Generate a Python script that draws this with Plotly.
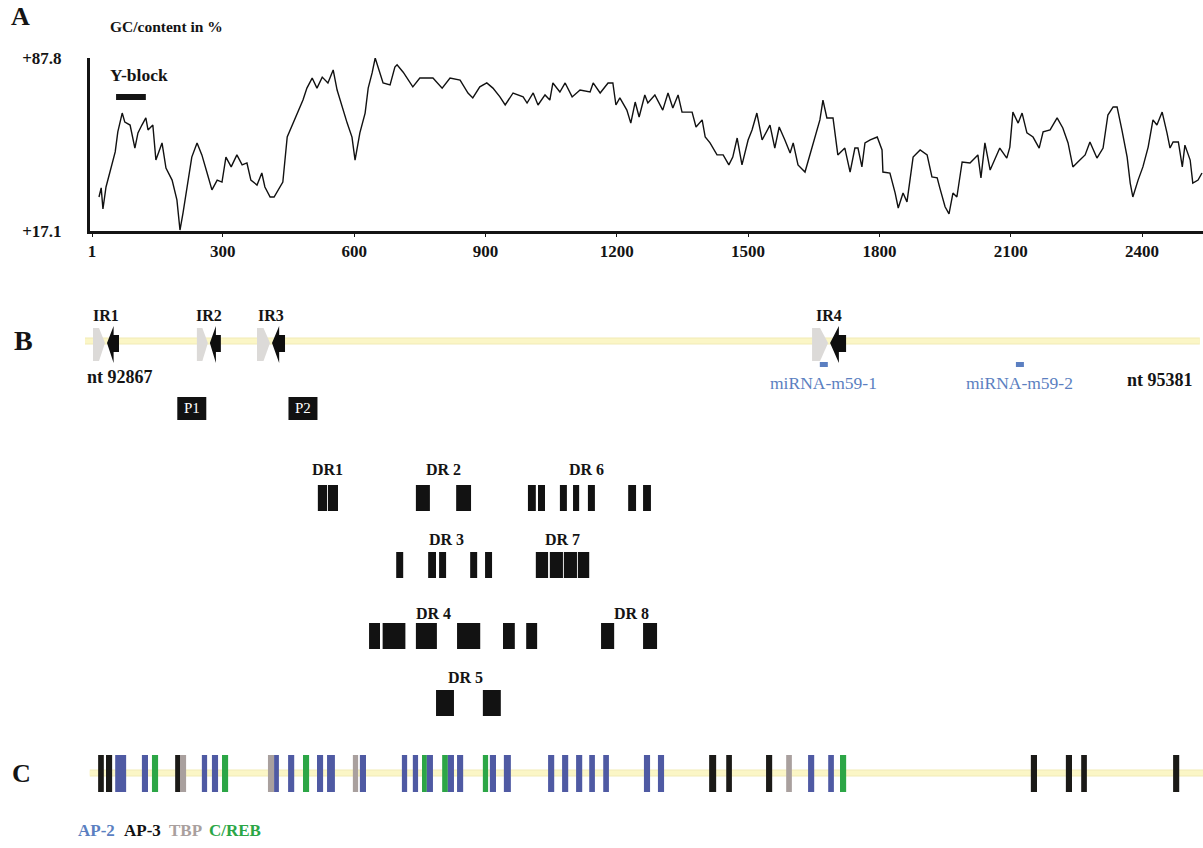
import plotly.graph_objects as go

W, H = 1203, 848
SERIF = "Liberation Serif"

# ---------------- Panel A : GC content (position in nt, value in %) ----------------
gc_pos = [17, 22, 26, 33, 42, 54, 60, 70, 76, 88,
          99, 106, 115, 124, 129, 140, 147, 161, 170, 184,
          195, 202, 209, 218, 229, 241, 252, 264, 275, 287,
          298, 307, 319, 332, 344, 355, 364, 378, 389, 396,
          408, 417, 426, 437, 447, 460, 472, 483, 492, 504,
          515, 527, 540, 552, 561, 572, 584, 595, 602, 613,
          625, 632, 641, 648, 659, 666, 682, 693, 698, 712,
          734, 750, 780, 801, 819, 842, 860, 871, 887, 903,
          917, 933, 945, 963, 986, 995, 1009, 1020, 1036, 1047,
          1054, 1070, 1082, 1098, 1116, 1139, 1146, 1162, 1180, 1191,
          1198, 1207, 1223, 1232, 1242, 1251, 1264, 1271, 1287, 1305,
          1317, 1328, 1340, 1349, 1372, 1381, 1395, 1402, 1413, 1429,
          1443, 1456, 1465, 1475, 1486, 1500, 1509, 1520, 1532, 1550,
          1561, 1571, 1584, 1596, 1603, 1614, 1630, 1646, 1657, 1664,
          1671, 1680, 1694, 1705, 1721, 1733, 1744, 1751, 1760, 1767,
          1779, 1795, 1806, 1808, 1824, 1836, 1843, 1854, 1863, 1877,
          1893, 1909, 1920, 1932, 1938, 1950, 1959, 1968, 1977, 1989,
          2007, 2025, 2032, 2041, 2053, 2064, 2075, 2091, 2098, 2105,
          2117, 2126, 2137, 2151, 2165, 2174, 2190, 2206, 2219, 2231,
          2242, 2258, 2270, 2281, 2297, 2311, 2322, 2334, 2343, 2354,
          2366, 2373, 2379, 2391, 2402, 2414, 2425, 2434, 2446, 2457,
          2464, 2471, 2483, 2492, 2498, 2510, 2516, 2528, 2537]
gc_val = [31.0, 34.7, 26.1, 35.1, 41.2, 49.4, 57.6, 65.3, 61.6, 60.4,
          51.0, 57.2, 60.4, 63.3, 58.4, 60.4, 46.1, 53.1, 42.8, 37.9,
          29.8, 17.5, 24.5, 35.1, 47.3, 53.1, 48.2, 40.8, 33.9, 37.9,
          37.1, 47.3, 43.3, 48.2, 44.1, 44.9, 37.9, 35.9, 40.8, 35.1,
          31.0, 31.0, 33.9, 37.1, 55.5, 61.2, 66.5, 70.6, 75.5, 79.6,
          75.5, 80.0, 77.6, 82.9, 74.7, 67.8, 61.2, 55.5, 46.1, 57.2,
          65.3, 75.5, 81.7, 87.8, 82.1, 77.6, 76.8, 84.1, 85.0, 82.0,
          76.0, 79.6, 79.6, 75.5, 79.6, 78.8, 73.5, 71.5, 76.0, 77.6,
          75.5, 71.9, 68.6, 73.5, 71.9, 69.4, 73.5, 68.6, 72.7, 70.6,
          77.6, 73.9, 77.6, 71.9, 74.7, 73.9, 77.6, 73.5, 77.6, 77.6,
          68.6, 71.5, 66.5, 61.2, 69.8, 63.7, 72.7, 69.4, 72.7, 66.5,
          73.5, 67.4, 72.7, 65.7, 65.7, 59.6, 62.5, 55.5, 53.1, 48.2,
          48.2, 44.1, 47.3, 55.1, 44.1, 54.3, 58.4, 65.3, 54.3, 60.4,
          51.0, 59.6, 54.3, 49.0, 53.1, 44.1, 41.2, 51.0, 58.4, 62.5,
          70.6, 63.3, 63.3, 48.2, 51.0, 41.2, 51.0, 51.0, 43.3, 53.1,
          54.3, 55.5, 50.2, 41.2, 40.8, 32.6, 26.5, 32.6, 29.0, 47.3,
          50.2, 48.2, 39.2, 38.8, 34.7, 27.0, 24.1, 32.6, 31.0, 45.3,
          44.9, 48.2, 38.8, 53.1, 42.0, 46.9, 51.0, 46.9, 51.4, 65.7,
          61.2, 65.3, 57.2, 55.5, 51.0, 57.6, 58.4, 63.3, 59.2, 53.1,
          43.3, 46.1, 48.2, 53.5, 46.9, 51.0, 64.5, 67.8, 67.8, 58.4,
          47.3, 36.7, 31.0, 37.9, 43.3, 51.4, 62.5, 60.4, 65.7, 57.2,
          51.0, 53.5, 53.5, 43.3, 52.2, 46.1, 36.7, 37.9, 40.8]
assert len(gc_pos) == len(gc_val)

x_ticks = [1, 300, 600, 900, 1200, 1500, 1800, 2100, 2400]
y_ticks = [17.1, 87.8]
y_tick_text = ["+17.1", "+87.8"]
yblock_span = [56, 124]

# ---------------- Panel B ----------------
seq_span = [-15, 2532]
seq_labels = ["nt 92867", "nt 95381"]
ir_names = ["IR1", "IR2", "IR3", "IR4"]
ir_pos = [33, 268, 410, 1685]
p_names = ["P1", "P2"]
p_pos = [229, 483]
mirna_names = ["miRNA-m59-1", "miRNA-m59-2"]
mirna_pos = [1673, 2121]

dr_names = ["DR1", "DR 2", "DR 6", "DR 3", "DR 7", "DR 4", "DR 8", "DR 5"]
dr_rows = [0, 0, 0, 1, 1, 2, 2, 3]
dr_label_pos = [540, 803, 1130, 812, 1077, 782, 1233, 855]
dr_segments = [
    [(517, 538), (540, 563)],
    [(741, 773), (833, 867)],
    [(997, 1015), (1020, 1036), (1070, 1086), (1100, 1114), (1134, 1150), (1226, 1244), (1260, 1278)],
    [(696, 712), (769, 787), (794, 810), (865, 881), (899, 915)],
    [(1015, 1043), (1047, 1077), (1079, 1109), (1111, 1137)],
    [(634, 659), (665, 717), (741, 789), (835, 888), (940, 967), (993, 1018)],
    [(1164, 1194), (1260, 1292)],
    [(787, 828), (894, 935)],
]

# ---------------- Panel C ----------------
c_span = [-4, 2545]
tf_names = ["AP-2", "AP-3", "TBP", "C/REB"]
tf_start = [15, 33, 54, 115, 138, 191, 202, 252, 275, 298,
            403, 417, 449, 483, 515, 538, 597, 613, 709, 734,
            755, 766, 801, 814, 835, 894, 910, 942, 1043, 1075,
            1107, 1137, 1169, 1262, 1294, 1411, 1450, 1541, 1587, 1637,
            1683, 1710, 2146, 2226, 2261, 2471]
tf_end = [28, 47, 79, 129, 152, 202, 216, 264, 289, 312,
          417, 428, 463, 497, 529, 556, 609, 627, 721, 746,
          766, 780, 814, 828, 849, 906, 924, 958, 1057, 1089,
          1121, 1150, 1182, 1276, 1308, 1427, 1463, 1555, 1600, 1651,
          1696, 1724, 2160, 2240, 2274, 2485]
tf_type = ["AP-3", "AP-3", "AP-2", "AP-2", "C/REB", "AP-3", "TBP", "AP-2", "AP-2", "C/REB",
           "TBP", "AP-2", "AP-2", "C/REB", "AP-2", "AP-2", "TBP", "AP-2", "AP-2", "AP-2",
           "C/REB", "AP-2", "C/REB", "AP-2", "AP-2", "C/REB", "AP-2", "AP-2", "AP-2", "AP-2",
           "AP-2", "AP-2", "AP-2", "AP-2", "AP-2", "AP-3", "AP-3", "AP-3", "TBP", "AP-2",
           "AP-2", "C/REB", "AP-3", "AP-3", "AP-3", "AP-3"]
assert len(tf_start) == len(tf_end) == len(tf_type)

# ---------------- styling / layout calibration ----------------
K = 2.2847                 # nt per pixel
X_LO = 1 - 92 * K          # nt at left page edge
X_HI = 1 + (W - 92) * K    # nt at right page edge
INK = "#141414"
YELLOW = "#fbf6c6"
YELLOW_EDGE = "#f1ebb6"
BLUE_TXT = "#5b7fc1"
tf_bar_color = {"AP-2": "#4f5aa3", "AP-3": "#1b1a17", "TBP": "#a9a09e", "C/REB": "#2ca646"}
tf_txt_color = {"AP-2": BLUE_TXT, "AP-3": "#111111", "TBP": "#a9a09e", "C/REB": "#2ca646"}


def bold(size, color=INK):
    return dict(family=SERIF, size=size, color=color, weight="bold")


def label(text, x, y, font, xref="x2", yref="y2", xanchor="center"):
    return dict(text=text, xref=xref, yref=yref, x=x, y=y, xanchor=xanchor,
                yanchor="middle", showarrow=False, font=font)


fig = go.Figure()
fig.add_trace(go.Scatter(x=gc_pos, y=gc_val, mode="lines",
                         line=dict(color="#111111", width=1.4),
                         xaxis="x", yaxis="y", showlegend=False, hoverinfo="skip"))
# invisible anchor trace for the overlay axes
fig.add_trace(go.Scatter(x=[X_LO], y=[0], mode="markers", marker=dict(opacity=0),
                         xaxis="x2", yaxis="y2", showlegend=False, hoverinfo="skip"))

shapes = []
ann = []

# ---- Panel A extras
ann.append(label("A", 20 / W, 1 - 17 / H, bold(26), "paper", "paper"))
ann.append(label("GC/content in %", 108 / W, 1 - 27 / H, bold(15.5), "paper", "paper", "left"))
ann.append(label("Y-block", yblock_span[0] - 8 * K, 1 - 75 / H, bold(17.5), "x", "paper", "left"))
shapes.append(dict(type="line", xref="x", yref="y2", x0=yblock_span[0], x1=yblock_span[1],
                   y0=97, y1=97, line=dict(color=INK, width=6)))

# ---- Panel B
ann.append(label("B", 23 / W, 1 - 341 / H, bold(28), "paper", "paper"))
shapes.append(dict(type="line", xref="x2", yref="y2", x0=seq_span[0], x1=seq_span[1],
                   y0=341, y1=341, line=dict(color=YELLOW_EDGE, width=7), layer="below"))
shapes.append(dict(type="line", xref="x2", yref="y2", x0=seq_span[0], x1=seq_span[1],
                   y0=341, y1=341, line=dict(color=YELLOW, width=5), layer="below"))
ann.append(label(seq_labels[0], seq_span[0], 377, bold(18), xanchor="left"))
ann.append(label(seq_labels[1], seq_span[1] - 5 * K, 380, bold(18), xanchor="right"))

arrow_w = [12, 11, 13, 16]   # pixel width of each arrow
YC = 344
for name, c, aw in zip(ir_names, ir_pos, arrow_w):
    tip_g = c - 1 * K
    tip_b = c + 1 * K
    back_g = tip_g - aw * 0.5 * K
    end_g = tip_g - aw * K
    back_b = tip_b + aw * 0.55 * K
    end_b = tip_b + aw * K
    pg = (f"M {end_g},{YC-16} L {back_g},{YC-16} L {tip_g},{YC-1} "
          f"L {back_g},{YC+17} L {end_g},{YC+17} Z")
    pb = (f"M {tip_b},{YC-1} L {back_b},{YC-18} L {back_b},{YC-9} L {end_b},{YC-9} "
          f"L {end_b},{YC+8} L {back_b},{YC+8} L {back_b},{YC+19} Z")
    shapes.append(dict(type="path", xref="x2", yref="y2", path=pg,
                       fillcolor="#dcdad8", line=dict(width=0)))
    shapes.append(dict(type="path", xref="x2", yref="y2", path=pb,
                       fillcolor="#0e0e0e", line=dict(width=0)))
    ann.append(label(name, c, 315, bold(16)))

for name, c in zip(p_names, p_pos):
    shapes.append(dict(type="rect", xref="x2", yref="y2", x0=c - 14.5 * K, x1=c + 14.5 * K,
                       y0=397, y1=420, fillcolor="#111111", line=dict(width=0)))
    ann.append(label(name, c, 408, dict(family=SERIF, size=15, color="white")))

for name, c in zip(mirna_names, mirna_pos):
    shapes.append(dict(type="rect", xref="x2", yref="y2", x0=c - 4 * K, x1=c + 4 * K,
                       y0=362, y1=367, fillcolor=BLUE_TXT, line=dict(width=0)))
    ann.append(label(name, c, 383, dict(family=SERIF, size=17.5, color=BLUE_TXT)))

row_top = [485, 552, 623, 690]
row_label = [469, 539, 613, 677]
for name, r, lp, segs in zip(dr_names, dr_rows, dr_label_pos, dr_segments):
    ann.append(label(name, lp, row_label[r], bold(16)))
    for s, e in segs:
        shapes.append(dict(type="rect", xref="x2", yref="y2", x0=s, x1=e,
                           y0=row_top[r], y1=row_top[r] + 26,
                           fillcolor="#121212", line=dict(width=0)))

# ---- Panel C
ann.append(label("C", 21 / W, 1 - 773 / H, bold(26), "paper", "paper"))
shapes.append(dict(type="line", xref="x2", yref="y2", x0=c_span[0], x1=c_span[1],
                   y0=773, y1=773, line=dict(color=YELLOW_EDGE, width=7), layer="below"))
shapes.append(dict(type="line", xref="x2", yref="y2", x0=c_span[0], x1=c_span[1],
                   y0=773, y1=773, line=dict(color=YELLOW, width=5), layer="below"))
for s, e, t in zip(tf_start, tf_end, tf_type):
    shapes.append(dict(type="rect", xref="x2", yref="y2", x0=s, x1=e, y0=755, y1=792,
                       fillcolor=tf_bar_color[t], line=dict(width=0)))

legend_x = [76, 122, 167, 207]
for name, lx in zip(tf_names, legend_x):
    ann.append(label(name, lx / W, 1 - 830 / H, bold(17, tf_txt_color[name]),
                     "paper", "paper", "left"))

fig.update_layout(
    template="none",
    width=W, height=H,
    margin=dict(l=0, r=0, t=0, b=0, pad=0, autoexpand=False),
    paper_bgcolor="white", plot_bgcolor="rgba(0,0,0,0)",
    showlegend=False,
    xaxis=dict(domain=[90 / W, 1], range=[1 - 2 * K, X_HI], anchor="y", automargin=False,
               tickvals=x_ticks, ticks="outside", ticklen=3, tickcolor=INK,
               showline=True, linewidth=3, linecolor=INK, showgrid=False, zeroline=False,
               tickfont=bold(17), fixedrange=True),
    yaxis=dict(domain=[1 - 231 / H, 1 - 58 / H], range=[17.1, 87.8], anchor="x", automargin=False,
               tickvals=y_ticks, ticktext=y_tick_text, ticks="", ticklabelstandoff=22,
               showline=True, linewidth=3, linecolor=INK, showgrid=False, zeroline=False,
               tickfont=bold(17), fixedrange=True),
    xaxis2=dict(domain=[0, 1], range=[X_LO, X_HI], anchor="y2", visible=False, fixedrange=True,
                automargin=False),
    yaxis2=dict(domain=[0, 1], range=[H, 0], anchor="x2", visible=False, fixedrange=True,
                automargin=False),
    shapes=shapes,
    annotations=ann,
)

fig.write_html("out.html", config={"displayModeBar": False},
               post_script="document.body.style.margin='0';document.body.style.overflow='hidden';")
